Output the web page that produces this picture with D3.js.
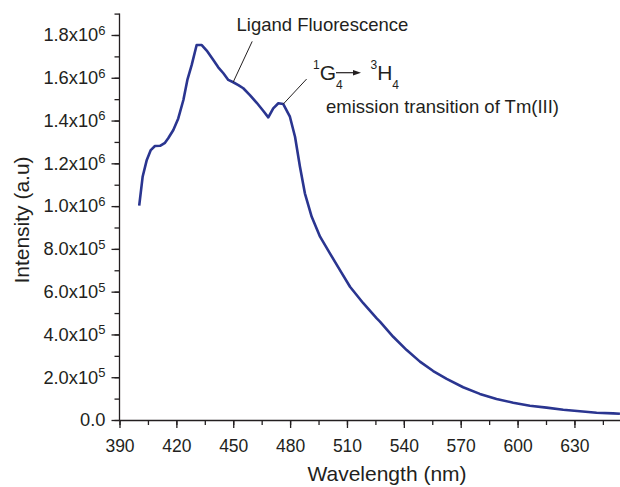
<!DOCTYPE html>
<html>
<head>
<meta charset="utf-8">
<script src="https://cdn.jsdelivr.net/npm/d3@7"></script>
<style>
  html, body { margin: 0; padding: 0; background: #fff; }
  svg { display: block; font-family: "Liberation Sans", Arial, sans-serif; }
</style>
</head>
<body>
<svg id="chart" width="620" height="487"></svg>
<script>
// emission spectrum
const wavelength = [400.4, 402.2, 404.4, 406.5, 408.7, 411.4, 414.0, 415.7, 418.4, 421.0,
  423.7, 425.8, 428.1, 430.7, 433.4, 436.0, 439.5, 442.1, 444.8, 447.4,
  450.0, 452.7, 455.3, 458.8, 462.4, 465.8, 468.5, 471.1, 473.8, 476.4,
  479.9, 482.6, 485.2, 487.8, 491.4, 495.8, 501.0, 506.3, 511.6, 518.6,
  525.7, 527.4, 534.4, 541.5, 548.5, 555.5, 562.6, 571.3, 580.1, 588.9,
  597.7, 606.5, 615.3, 624.1, 632.9, 641.7, 650.4, 654.0]
const intensity = [1.002e6, 1.137e6, 1.216e6, 1.262e6, 1.281e6, 1.282e6, 1.296e6, 1.317e6, 1.356e6, 1.410e6,
  1.496e6, 1.590e6, 1.660e6, 1.753e6, 1.753e6, 1.727e6, 1.683e6, 1.649e6, 1.621e6, 1.590e6,
  1.579e6, 1.566e6, 1.551e6, 1.519e6, 1.483e6, 1.446e6, 1.415e6, 1.457e6, 1.481e6, 1.477e6,
  1.418e6, 1.324e6, 1.184e6, 1.060e6, 0.950e6, 0.857e6, 0.779e6, 0.701e6, 0.623e6, 0.546e6,
  0.475e6, 0.460e6, 0.389e6, 0.327e6, 0.273e6, 0.229e6, 0.192e6, 0.153e6, 0.122e6, 0.098e6,
  0.081e6, 0.067e6, 0.058e6, 0.048e6, 0.041e6, 0.034e6, 0.031e6, 0.029e6]

const xTicks = [390, 420, 450, 480, 510, 540, 570, 600, 630]
const xMinorTicks = [390, 405, 420, 435, 450, 465, 480, 495, 510, 525, 540, 555, 570, 585, 600, 615, 630, 645]
const yTicks = [0, 2e5, 4e5, 6e5, 8e5, 1.0e6, 1.2e6, 1.4e6, 1.6e6, 1.8e6]
const yMinorTicks = [0, 1e5, 2e5, 3e5, 4e5, 5e5, 6e5, 7e5, 8e5, 9e5, 1.0e6, 1.1e6, 1.2e6,
  1.3e6, 1.4e6, 1.5e6, 1.6e6, 1.7e6, 1.8e6, 1.9e6]

// leader lines, in data units: [from on curve, to label]
const ligandLeader = [[450, 1.58e6], [460, 1.77e6]]
const tmLeader = [[476.4, 1.477e6], [488.7, 1.594e6]]

const svg = d3.select("#chart")
const ink = "#231f20"

const x = d3.scaleLinear().domain([390, 654.3]).range([119.5, 620.5])
const y = d3.scaleLinear().domain([0, 1.9e6]).range([420, 13.6])

// minor ticks
svg.append("g")
  .attr("transform", "translate(0,420)")
  .call(d3.axisBottom(x).tickValues(xMinorTicks).tickSize(5).tickSizeOuter(0).tickFormat(""))
  .call(g => g.select(".domain").remove())
svg.append("g")
  .attr("transform", "translate(119.5,0)")
  .call(d3.axisLeft(y).tickValues(yMinorTicks).tickSize(5).tickSizeOuter(0).tickFormat(""))
  .call(g => g.select(".domain").remove())

// major x axis
const xAxis = svg.append("g")
  .attr("transform", "translate(0,420)")
  .call(d3.axisBottom(x).tickValues(xTicks).tickSize(8).tickPadding(12).tickSizeOuter(0))
xAxis.selectAll("text").attr("font-size", 17.5).attr("fill", ink)

// major y axis with 10^n labels
function supLabel(sel) {
  sel.each(function(d) {
    const t = d3.select(this).text("")
    if (d === 0) { t.text("0.0"); return }
    const e = Math.floor(Math.log10(d) + 1e-9)
    const m = (d / Math.pow(10, e)).toFixed(1)
    t.append("tspan").text(m + "x10")
    t.append("tspan").attr("dy", "-0.5em").attr("font-size", 13).text(e)
  })
}
const yAxis = svg.append("g")
  .attr("transform", "translate(119.5,0)")
  .call(d3.axisLeft(y).tickValues(yTicks).tickSize(8).tickPadding(6).tickSizeOuter(0))
yAxis.selectAll("text").attr("font-size", 18.3).attr("fill", ink).call(supLabel)
yAxis.select(".domain").attr("d", `M0,${y(1.9e6)}V${y(0)}`)

svg.selectAll(".domain, .tick line").attr("stroke", ink).attr("stroke-width", 1.3)

// axis titles
svg.append("text")
  .attr("x", 387)
  .attr("y", 481)
  .attr("text-anchor", "middle")
  .attr("font-size", 21)
  .attr("fill", ink)
  .text("Wavelength (nm)")
svg.append("text")
  .attr("transform", "translate(28.5,220) rotate(-90)")
  .attr("text-anchor", "middle")
  .attr("font-size", 21)
  .attr("fill", ink)
  .text("Intensity (a.u)")

// spectrum
const line = d3.line().x((d, i) => x(wavelength[i])).y(d => y(d))
svg.append("path")
  .datum(intensity)
  .attr("d", line)
  .attr("fill", "none")
  .attr("stroke", "#2a3590")
  .attr("stroke-width", 2.6)
  .attr("stroke-linejoin", "round")

// annotations
const leader = d3.line().x(d => x(d[0])).y(d => y(d[1]))
svg.append("path").attr("d", leader(ligandLeader)).attr("stroke", ink).attr("stroke-width", 1)
svg.append("path").attr("d", leader(tmLeader)).attr("stroke", ink).attr("stroke-width", 1)

svg.append("text")
  .attr("x", 236.5).attr("y", 30.5)
  .attr("font-size", 18.5).attr("fill", ink)
  .text("Ligand Fluorescence")

// term symbols: superscript, letter, subscript in one text each
function term(xPos, sup, letter) {
  const t = svg.append("text").attr("x", xPos).attr("y", 80).attr("fill", ink)
  t.append("tspan").attr("font-size", 12).attr("dy", -11).text(sup)
  t.append("tspan").attr("font-size", 21).attr("dy", 11).text(letter)
  t.append("tspan").attr("font-size", 12).attr("dy", 8.5).text("4")
}
term(313, "1", "G")
term(370.5, "3", "H")
svg.append("line").attr("x1", 336).attr("x2", 354).attr("y1", 72.7).attr("y2", 72.7)
  .attr("stroke", ink).attr("stroke-width", 1.2)
svg.append("path").attr("d", "M353,70 L361,72.7 L353,75.4 Z").attr("fill", ink)

svg.append("text")
  .attr("x", 326).attr("y", 113.3)
  .attr("font-size", 18.5).attr("fill", ink)
  .text("emission transition of Tm(III)")
</script>
</body>
</html>
